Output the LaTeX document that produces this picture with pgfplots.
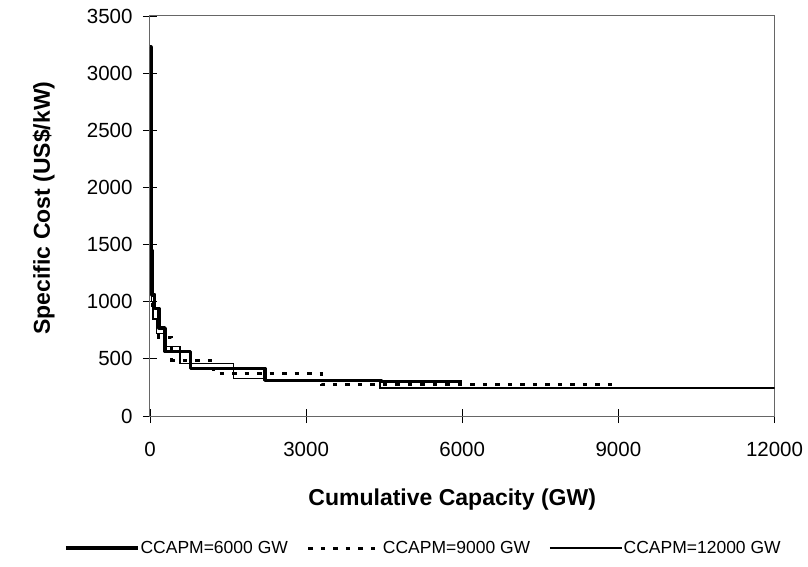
\documentclass[border=0pt]{standalone}
\usepackage{pgfplots}
\pgfplotsset{compat=1.18}
\usepackage{fontspec}
\setmainfont{Liberation Sans}
\begin{document}
\begin{tikzpicture}[x=1pt,y=1pt]
\path[use as bounding box] (-150,-151) rectangle (658,416);
\begin{axis}[
  at={(0,0)}, anchor=south west,
  scale only axis, width=624.5pt, height=400pt,
  xmin=0, xmax=12000, ymin=0, ymax=3500,
  xtick={0,3000,6000,9000,12000},
  ytick={0,500,1000,1500,2000,2500,3000,3500},
  scaled x ticks=false, scaled y ticks=false,
  /pgf/number format/1000 sep={},
  /pgf/number format/assume math mode=true,
  tick label style={font=\fontsize{20.5}{24}\selectfont},
  axis line style={draw=gray!80!black, line width=1pt},
  tick style={black, line width=0.8pt},
  tick align=center, major tick length=14pt,
  xtick pos=bottom, ytick pos=left,
  xticklabel style={yshift=-16pt},
  yticklabel style={xshift=-7pt},
  xlabel={\textbf{Cumulative Capacity (GW)}},
  ylabel={\textbf{Specific Cost (US\$/kW)}},
  label style={font=\fontsize{23}{27}\selectfont},
  xlabel style={at={(axis description cs:0.484,-0.21)}, anchor=center},
  ylabel style={at={(axis description cs:-0.17,0.52)}, anchor=center},
  legend columns=3,
  legend style={at={(axis description cs:0.437,-0.33)}, anchor=center, draw=none,
    font=\fontsize{17.5}{21}\selectfont,
    nodes={inner xsep=1pt},
    /tikz/every even column/.append style={column sep=18pt}},
  legend image code/.code={\draw[#1] (0pt,0pt) -- (72pt,0pt);},
]
% CCAPM = 6000 GW (thick)
\addplot[const plot, black, line width=3.5pt, line join=round] coordinates {
 (0,3230) (15,2050) (25,1450) (40,1060) (90,940) (170,770) (290,565)
 (775,415) (2210,312) (4440,300) (6000,300)
};
\addlegendentry{CCAPM=6000 GW}
% CCAPM = 9000 GW (dotted)
\addplot[const plot, black, line width=3pt, dash pattern=on 4.5pt off 8pt] coordinates {
 (0,2500) (20,1300) (45,930) (160,690) (420,490) (1217,374) (3300,272) (9000,272)
};
\addlegendentry{CCAPM=9000 GW}
% CCAPM = 12000 GW (thin)
\addplot[const plot, black, line width=1.4pt] coordinates {
 (0,2100) (15,1400) (30,1000) (60,850) (120,720) (270,606) (575,460)
 (1600,330) (2210,318) (4420,245) (12000,245)
};
\addlegendentry{CCAPM=12000 GW}
\end{axis}
\end{tikzpicture}
\end{document}
